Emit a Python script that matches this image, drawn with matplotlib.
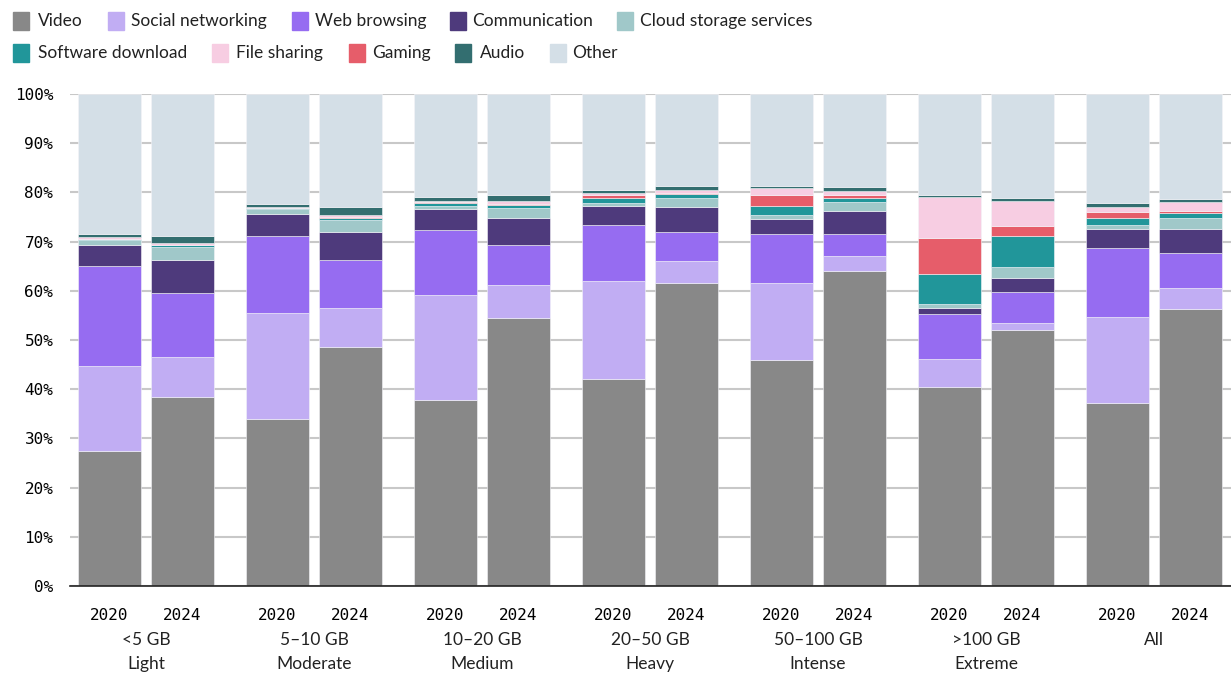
import numpy as np
import matplotlib.pyplot as plt
from matplotlib.patches import Rectangle

# Share of mobile data traffic by application category (%)
groups = ['<5 GB\nLight', '5\u201310 GB\nModerate', '10\u201320 GB\nMedium', '20\u201350 GB\nHeavy',
          '50\u2013100 GB\nIntense', '>100 GB\nExtreme', 'All']
years = ['2020', '2024']

categories = ['Video', 'Social networking', 'Web browsing', 'Communication', 'Cloud storage services',
              'Software download', 'Gaming', 'File sharing', 'Audio', 'Other']

video = [27.4, 38.4, 33.9, 48.5, 37.9, 54.5, 42.0, 61.5, 46.0, 64.1, 40.5, 52.0, 37.1, 56.2]
social = [17.3, 8.2, 21.5, 8.1, 21.3, 6.7, 19.9, 4.6, 15.5, 2.9, 5.7, 1.5, 17.6, 4.3]
web = [20.3, 13.0, 15.8, 9.7, 13.1, 8.1, 11.4, 5.8, 10.1, 4.6, 9.0, 6.2, 14.1, 7.1]
communication = [4.4, 6.6, 4.5, 5.6, 4.3, 5.4, 4.0, 5.1, 3.0, 4.6, 1.4, 3.0, 3.8, 5.0]
cloud = [0.9, 2.8, 0.9, 2.5, 0.6, 2.2, 0.6, 1.9, 0.8, 1.8, 0.8, 2.2, 0.8, 2.2]
software = [0.2, 0.3, 0.2, 0.4, 0.7, 0.6, 1.0, 0.7, 1.8, 0.9, 6.1, 6.3, 1.4, 1.0]
gaming = [0.1, 0.1, 0.1, 0.3, 0.1, 0.1, 0.5, 0.3, 2.2, 0.5, 7.3, 2.0, 1.2, 0.4]
file_sharing = [0.3, 0.3, 0.2, 0.3, 0.3, 0.7, 0.5, 0.5, 1.4, 0.9, 8.3, 5.1, 1.1, 1.8]
audio = [0.7, 1.5, 0.5, 1.6, 0.7, 1.1, 0.6, 0.8, 0.4, 0.7, 0.3, 0.5, 0.7, 0.6]

series = [video, social, web, communication, cloud, software, gaming, file_sharing, audio]
other = [100 - sum(v) for v in zip(*series)]
series.append(other)

colors = ['#888888', '#c1adf3', '#966cf1', '#4e3a7c', '#a0c8c9',
          '#21969a', '#e65d6a', '#f7cde2', '#336e70', '#d4dfe7']

mono = 'DejaVu Sans Mono'
sans = 'Lato'

fig = plt.figure(figsize=(12.31, 6.73), dpi=100)
ax = fig.add_axes([70 / 1231, 87 / 673, 1 - 70 / 1231, 492 / 673])

# bar positions: two bars per group
n_groups = len(groups)
offset = 0.217
width = 0.375
x = []
for g in range(n_groups):
    x += [g - offset, g + offset]
x = np.array(x)

bottom = np.zeros(len(x))
for vals, c in zip(series, colors):
    ax.bar(x, vals, width=width, bottom=bottom, color=c, edgecolor='#f4f4f8',
           linewidth=0.4, zorder=3)
    bottom += np.array(vals)

ax.set_xlim(-0.452, 6.458)
ax.set_ylim(0, 100)

ax.set_yticks(np.arange(0, 101, 10))
ax.set_yticklabels([f'{v}%' for v in range(0, 101, 10)], fontfamily=mono, fontsize=11.5)
ax.yaxis.grid(True, color='#c8c8c8', linewidth=1.5, zorder=0)
ax.tick_params(axis='y', length=0, pad=12)

ax.set_xticks(x)
ax.set_xticklabels(years * n_groups, fontfamily=mono, fontsize=11.5)
ax.tick_params(axis='x', length=0, pad=15.5)

for s in ['top', 'right', 'left']:
    ax.spines[s].set_visible(False)
ax.spines['bottom'].set_color('#222222')
ax.spines['bottom'].set_linewidth(1.2)
ax.spines['bottom'].set_zorder(4)

# group labels below year labels
for g, lab in enumerate(groups):
    ax.text(g, -0.0945, lab, transform=ax.get_xaxis_transform(), ha='center', va='top',
            fontfamily=sans, fontsize=12.5, linespacing=1.55, color='#222222')

# legend, two rows at top
legend_rows = [
    [(13, 38, 0), (108, 131, 1), (292, 315, 2), (450, 472, 3), (617, 640, 4)],
    [(13, 38, 5), (212, 236, 7), (349, 372, 6), (455, 480, 8), (550, 572, 9)],
]
row_y = [21, 53]
for r, row in enumerate(legend_rows):
    for sq_x, tx, k in row:
        yc = row_y[r]
        fig.patches.append(Rectangle((sq_x / 1231, 1 - (yc + 8.5) / 673), 16 / 1231, 17 / 673,
                                     transform=fig.transFigure, color=colors[k]))
        fig.text(tx / 1231, 1 - yc / 673, categories[k], ha='left', va='center',
                 fontfamily=sans, fontsize=12.5, color='#222222')

fig.savefig('out.png', dpi=100)
